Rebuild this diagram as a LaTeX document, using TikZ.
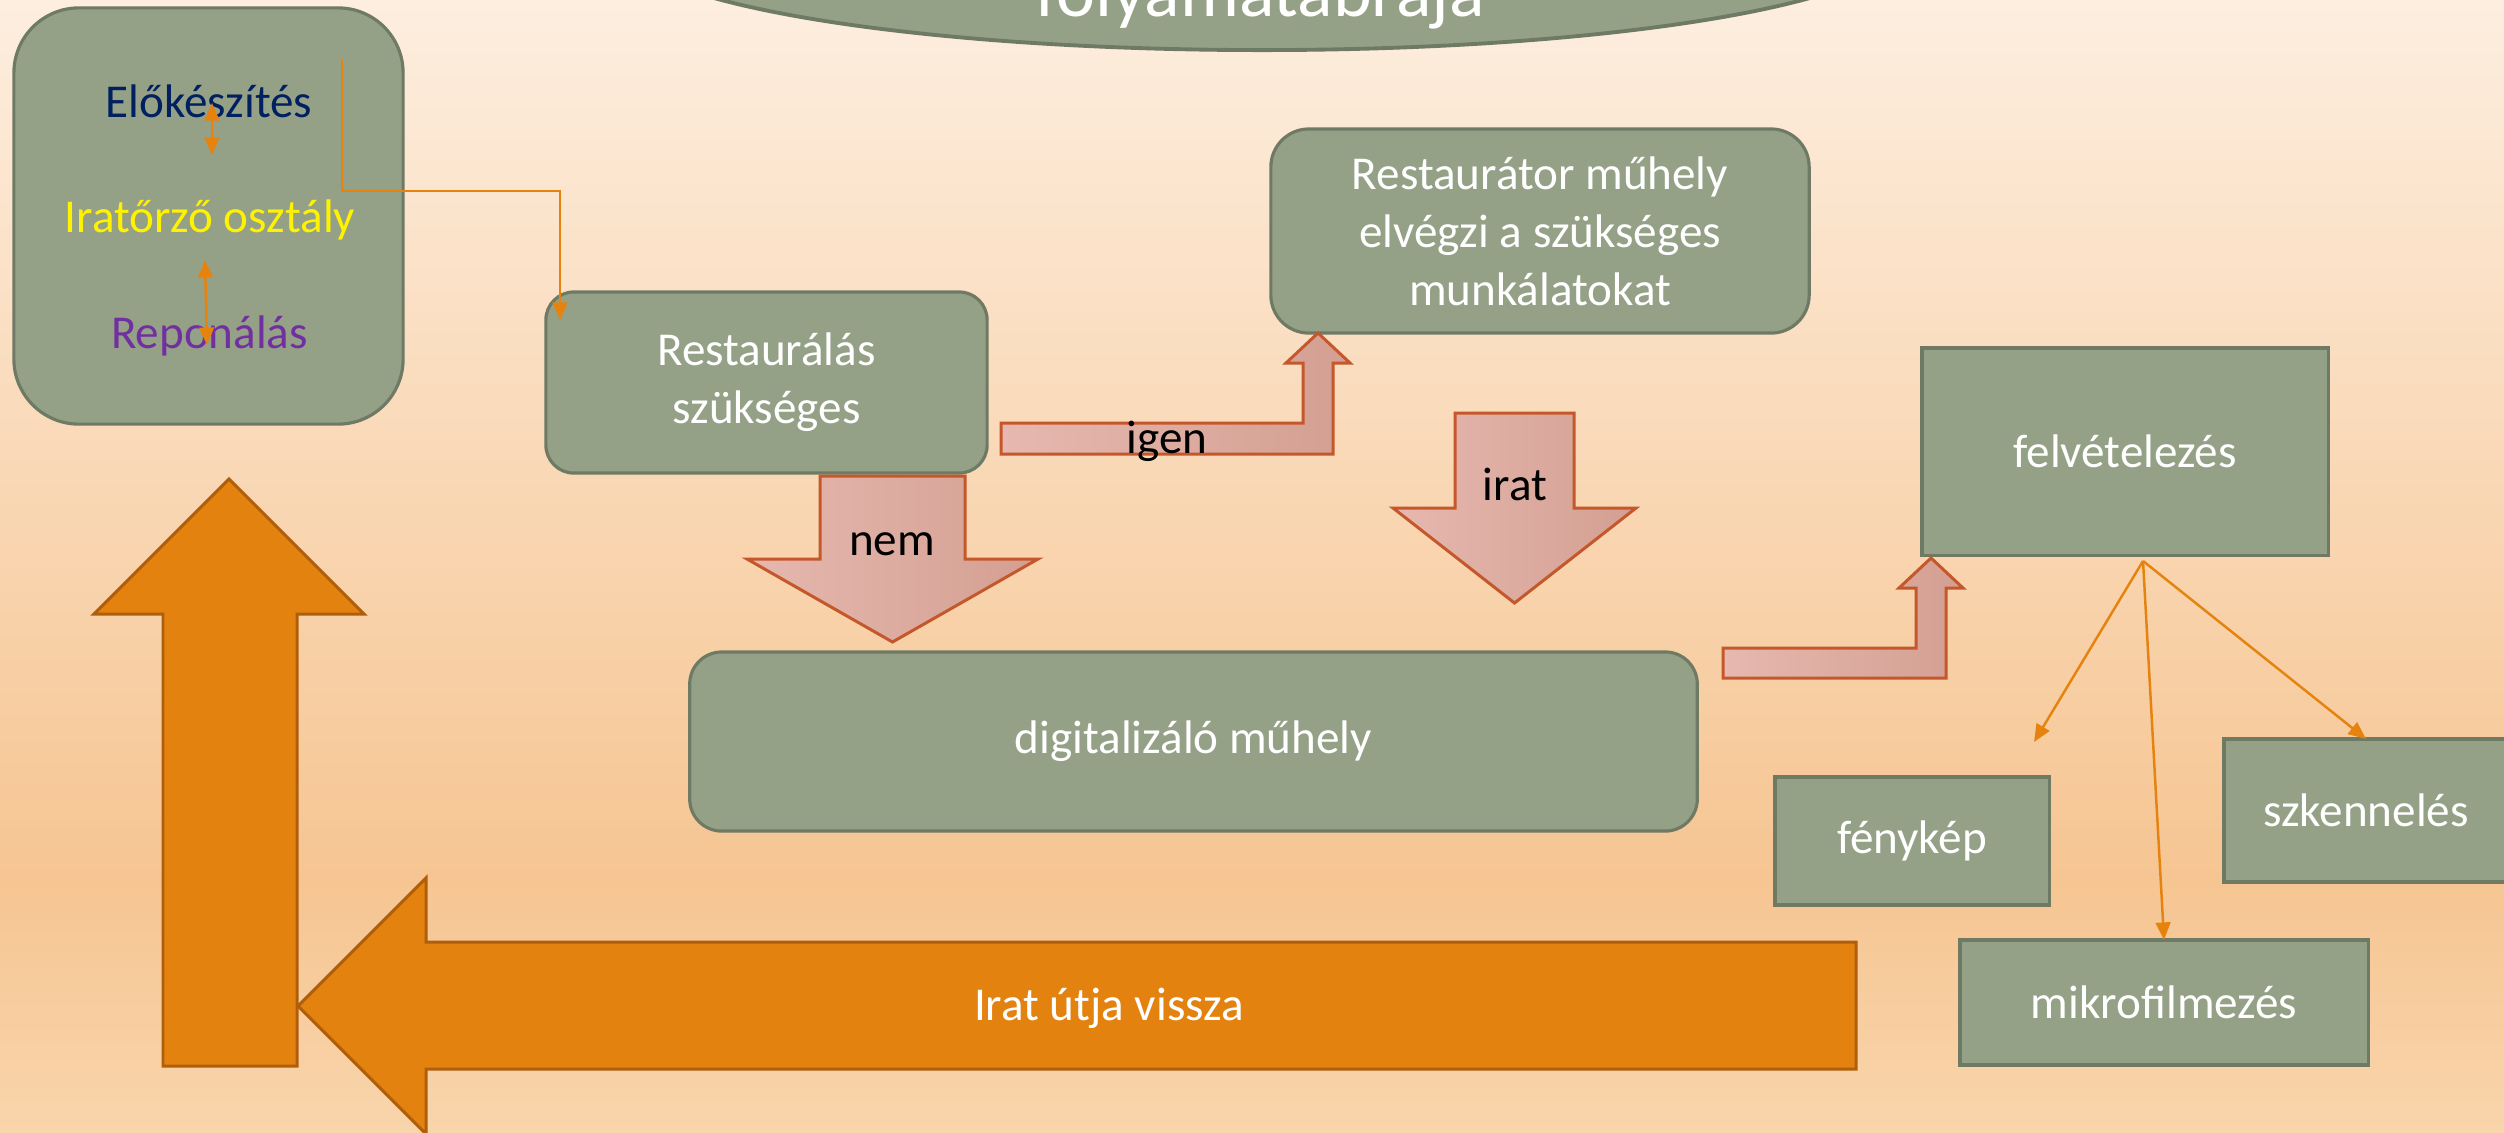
\documentclass[tikz,border=0pt]{standalone}
\usepackage{fontspec}
\setmainfont{Carlito}
\usetikzlibrary{shapes.geometric,arrows.meta}
\definecolor{blockfill}{HTML}{95A187}
\definecolor{blockline}{HTML}{6E7A63}
\definecolor{connorange}{HTML}{E6830F}
\definecolor{bigorange}{HTML}{E4820F}
\definecolor{bigline}{HTML}{B05E0A}
\definecolor{pinkleft}{HTML}{E6B8AF}
\definecolor{pinkright}{HTML}{D49F92}
\definecolor{pinkline}{HTML}{C4582B}
\definecolor{bgtop}{HTML}{FDEEDF}
\definecolor{bgmid}{HTML}{F6C592}
\definecolor{bgbottom}{HTML}{F9D5AC}
\definecolor{elotext}{HTML}{002060}
\definecolor{repotext}{HTML}{7030A0}
\tikzstyle{gblock} = [draw=blockline,fill=blockfill,line width=0.9pt,inner sep=0pt,outer sep=0pt,
    text=white,align=center,font=\fontsize{13.4}{16.5}\selectfont]
\tikzstyle{rblock} = [gblock,rounded corners=0.3cm]
\tikzstyle{lbl} = [inner sep=0pt,anchor=base,font=\fontsize{13.4}{16.5}\selectfont]
\tikzstyle{conn} = [draw=connorange,line width=0.7pt,-{Triangle[length=5pt,width=4.2pt]}]
\tikzstyle{connboth} = [conn,{Triangle[length=5pt,width=4.2pt]}-{Triangle[length=5pt,width=4.2pt]}]
\tikzstyle{parrow} = [draw=pinkline,line width=0.85pt,left color=pinkleft,right color=pinkright]
\tikzstyle{oarrow} = [draw=bigline,line width=0.85pt,fill=bigorange]
\newcommand{\downblock}[6]{
    \shadedraw[parrow] (#1,#3) -- (#2,#3) -- (#2,#4) -- (#2+#5,#4) -- ({(#1+#2)/2},#6) -- (#1-#5,#4) -- (#1,#4) -- cycle;
}
\newcommand{\bentblock}[6]{
    \shadedraw[parrow] (#1,#2) -- (#4,#2) -- (#4,#6+30) -- (#4-17,#6+30) -- ({(#4+#5)/2},#6) -- (#5+17,#6+30) -- (#5,#6+30) -- (#5,#3) -- (#1,#3) -- cycle;
}

\begin{document}
\begin{tikzpicture}[x=0.01cm,y=-0.01cm]
	\useasboundingbox (0,0) rectangle (2504,1132);
	\clip (0,0) rectangle (2504,1132);
	\shade[top color=bgtop,bottom color=bgmid] (0,0) rectangle (2504,880);
	\shade[top color=bgmid,bottom color=bgbottom] (0,880) rectangle (2504,1132);
	
	\node(cim) at (1262,-58) [gblock,ellipse,minimum width=12.8cm,minimum height=2.16cm,line width=1.1pt] {};
	\node(cimtext) at (1260,16) [lbl,text=white,font=\fontsize{21}{25}\selectfont] {folyamatábrája};
	
	\node(iratorzo) at (208.5,216) [rblock,rounded corners=0.65cm,minimum width=3.89cm,minimum height=4.16cm] {};
	\node(elokeszites) at (209,117) [lbl,text=elotext] {Előkészítés};
	\node(osztaly) at (210,232) [lbl,text=yellow] {Iratőrző osztály};
	\node(reponalas) at (209.5,348) [lbl,text=repotext] {Reponálás};
	
	\node(restauralas) at (766.5,382.5) [rblock,rounded corners=0.28cm,minimum width=4.41cm,minimum height=1.81cm] {Restaurálás\\szükséges};
	\node(restaurator) at (1540,231) [rblock,rounded corners=0.38cm,minimum width=5.38cm,minimum height=2.04cm] {Restaurátor műhely\\elvégzi a szükséges\\munkálatokat};
	\node(digitalizalo) at (1193.5,741.5) [rblock,rounded corners=0.32cm,minimum width=10.07cm,minimum height=1.79cm] {digitalizáló műhely};
	\node(felvetelezes) at (2125,451.5) [gblock,minimum width=4.06cm,minimum height=2.07cm] {felvételezés};
	\node(fenykep) at (1912,841) [gblock,minimum width=2.74cm,minimum height=1.28cm] {fénykép};
	\node(szkenneles) at (2366,810.5) [gblock,minimum width=2.84cm,minimum height=1.43cm] {szkennelés};
	\node(mikrofilmezes) at (2164,1002.5) [gblock,minimum width=4.08cm,minimum height=1.25cm] {mikrofilmezés};
	
	\downblock{820}{965}{476}{559}{73}{642}
	\downblock{1455}{1574}{413}{508}{62}{603}
	\bentblock{1001}{423}{454}{1303}{1333}{333}
	\bentblock{1723}{648}{678}{1916}{1946}{558}
	\node(nem) at (892,555) [lbl] {nem};
	\node(igen) at (1167,453) [lbl] {igen};
	\node(irat) at (1515,500) [lbl] {irat};
	
	\filldraw[oarrow] (163,1066) -- (163,614) -- (94,614) -- (229,479) -- (364,614) -- (297,614) -- (297,1066) -- cycle;
	\filldraw[oarrow] (1856,942) -- (426,942) -- (426,878) -- (298,1006) -- (426,1134) -- (426,1069) -- (1856,1069) -- cycle;
	\node(vissza) at (1109,1020) [lbl,text=white] {Irat útja vissza};
	
	\coordinate(elofent) at (212,103);
	\coordinate(elolent) at (212,155);
	\coordinate(repofent) at (205,260);
	\coordinate(repolent) at (207,345);
	\draw[connboth] (elofent) -- (elolent);
	\draw[connboth] (repofent) -- (repolent);
	
	\coordinate(elbowstart) at (342,60);
	\coordinate(elbowend) at (560,320);
	\draw[conn] (elbowstart) -- ++(0,131) -| (elbowend);
	
	\coordinate(elagazas) at (2143,561);
	\coordinate(fenykepfole) at (2034,742);
	\draw[conn] (elagazas) -- (fenykepfole);
	\draw[conn] (elagazas) -- (mikrofilmezes.north);
	\draw[conn] (elagazas) -- (szkenneles.north);
\end{tikzpicture}
\end{document}
